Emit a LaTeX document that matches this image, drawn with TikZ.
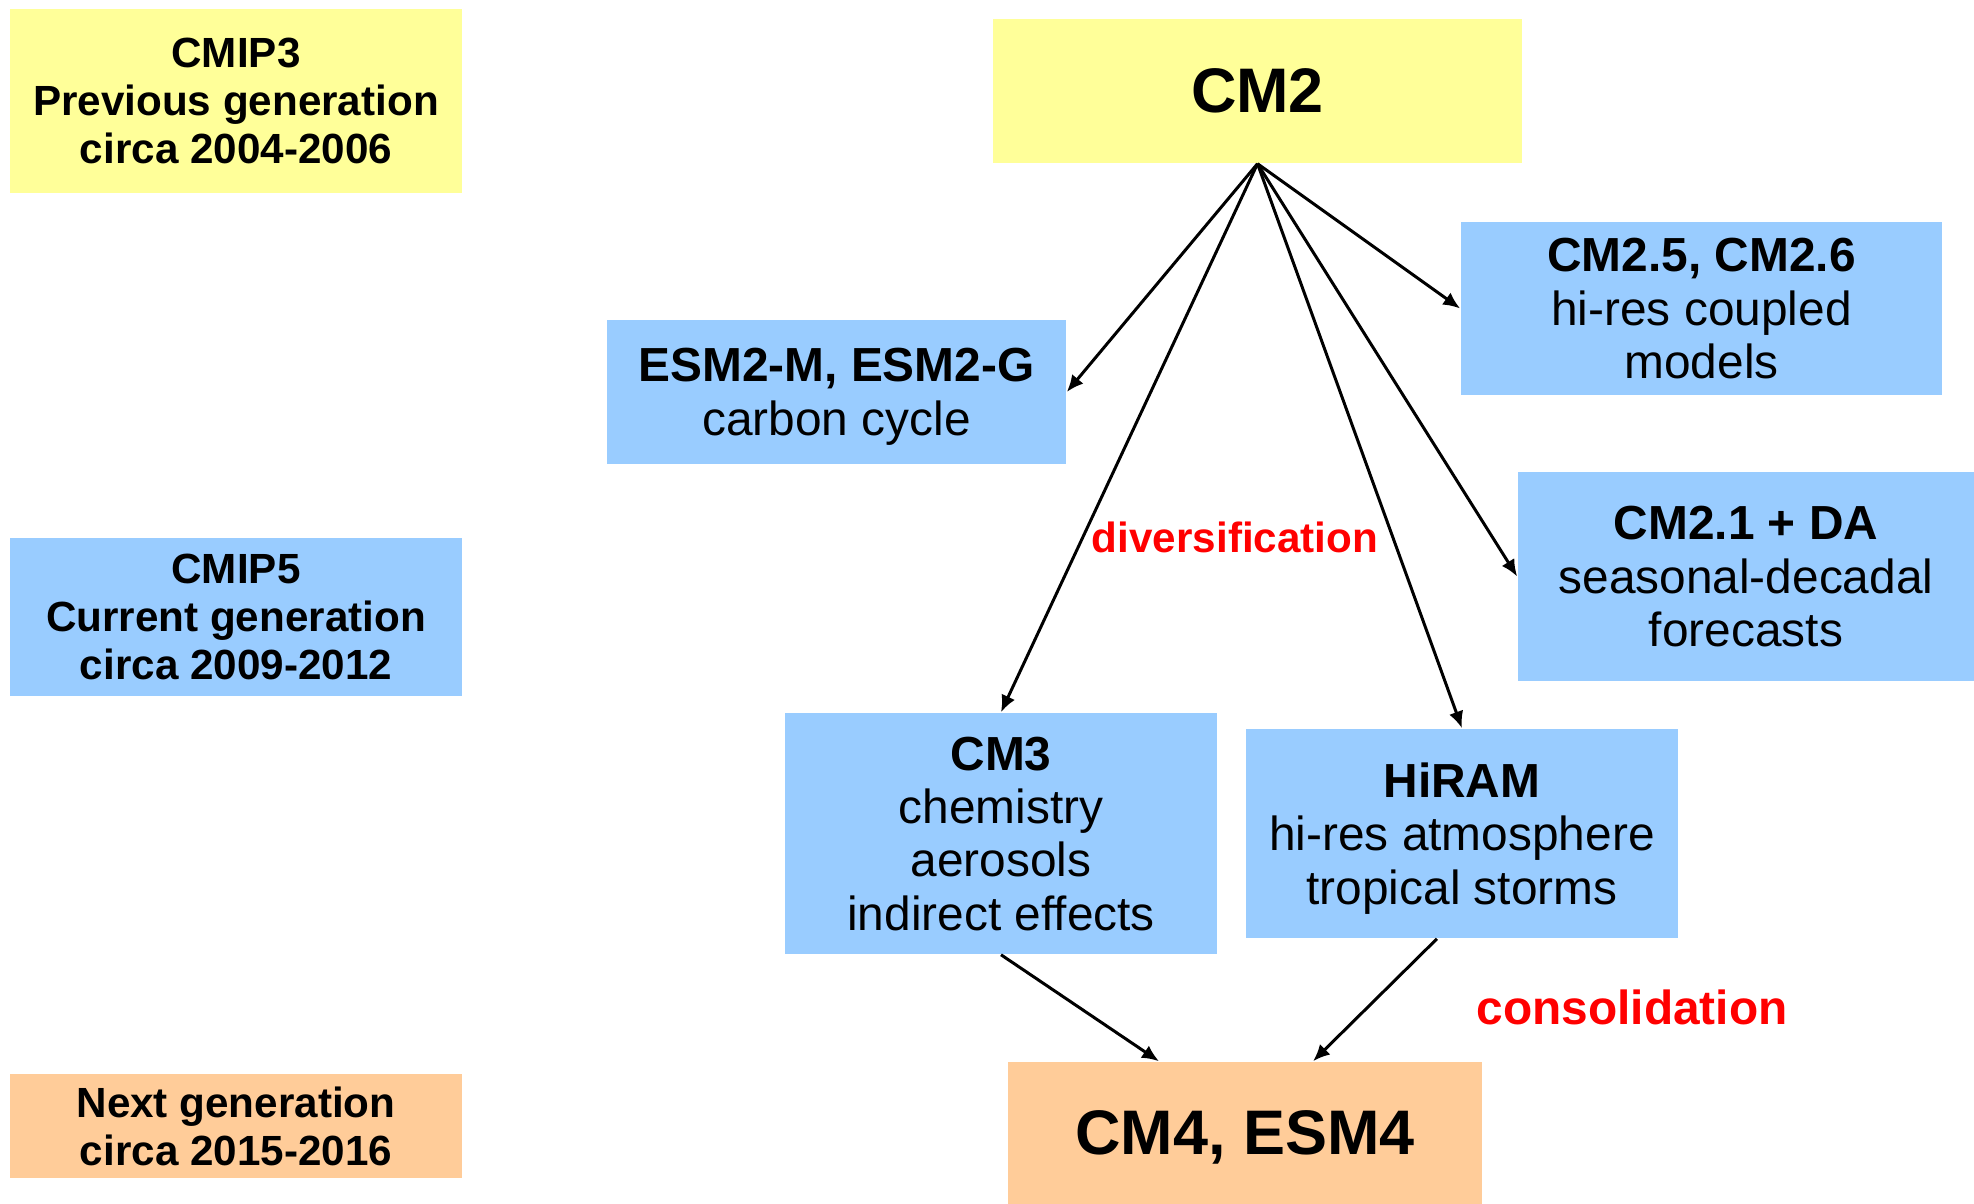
\documentclass[tikz,border=0pt]{standalone}
\usepackage{fontspec}
\setmainfont{Liberation Sans}
\usepackage{tikz}
\usetikzlibrary{arrows.meta}
\definecolor{genyellow}{RGB}{255,255,153}
\definecolor{genblue}{RGB}{153,204,255}
\definecolor{genorange}{RGB}{255,204,153}

\begin{document}
\begin{tikzpicture}[x=0.01cm,y=-0.01cm,
  box/.style={inner sep=0pt,align=center,text=black,text depth=0pt},
  era/.style={box,font=\fontsize{12}{13.6}\selectfont\bfseries},
  model/.style={box,font=\fontsize{13.6}{15.2}\selectfont},
  big/.style={box,font=\fontsize{17.9}{20}\selectfont\bfseries},
  note/.style={inner sep=0pt,text=red,font=\bfseries},
  link/.style={line width=0.85pt,-{Latex[length=4.8pt,width=4.2pt]}}]

\useasboundingbox (0,0) rectangle (1974,1204);

% generations on the left
\node[era,fill=genyellow,minimum width=4.52cm,minimum height=1.84cm] (cmip3) at (236,101)
  {CMIP3\\Previous generation\\circa 2004-2006};
\node[era,fill=genblue,minimum width=4.52cm,minimum height=1.58cm] (cmip5) at (236,617)
  {CMIP5\\Current generation\\circa 2009-2012};
\node[era,fill=genorange,minimum width=4.52cm,minimum height=1.04cm] (nextgen) at (236,1126)
  {Next generation\\circa 2015-2016};

% models
\node[big,fill=genyellow,minimum width=5.29cm,minimum height=1.44cm] (cm2) at (1257.5,91) {CM2};
\node[model,fill=genblue,minimum width=4.59cm,minimum height=1.44cm] (esm2) at (836.5,392)
  {\textbf{ESM2-M, ESM2-G}\\carbon cycle};
\node[model,fill=genblue,minimum width=4.81cm,minimum height=1.73cm] (cm25) at (1701.5,308.5)
  {\textbf{CM2.5, CM2.6}\\hi-res coupled\\models};
\node[model,fill=genblue,minimum width=4.56cm,minimum height=2.09cm] (cm21) at (1746,576.5)
  {\textbf{CM2.1 + DA}\\seasonal-decadal\\forecasts};
\node[model,fill=genblue,minimum width=4.32cm,minimum height=2.41cm] (cm3) at (1001,833.5)
  {\textbf{CM3}\\chemistry\\aerosols\\indirect effects};
\node[model,fill=genblue,minimum width=4.32cm,minimum height=2.09cm] (hiram) at (1462,833.5)
  {\textbf{HiRAM}\\hi-res atmosphere\\tropical storms};
\node[big,fill=genorange,minimum width=4.74cm,minimum height=1.42cm] (cm4) at (1245,1133) {CM4, ESM4};

% labels
\node[note,font=\fontsize{12}{14}\selectfont\bfseries] (divers) at (1235,537) {diversification};
\node[note,font=\fontsize{13.6}{16}\selectfont\bfseries] (consol) at (1632,1007) {consolidation};

% arrows
\draw[link] (cm2.south) -- (esm2.east);
\draw[link] (cm2.south) -- (cm3.north);
\draw[link] (cm2.south) -- (hiram.north);
\draw[link] (cm2.south) -- (cm21.west);
\draw[link] (cm2.south) -- (cm25.west);
\draw[link] (cm3.south) -- ([xshift=-0.86cm]cm4.north);
\draw[link] ([xshift=-0.25cm]hiram.south) -- ([xshift=0.68cm]cm4.north);
\end{tikzpicture}
\end{document}
